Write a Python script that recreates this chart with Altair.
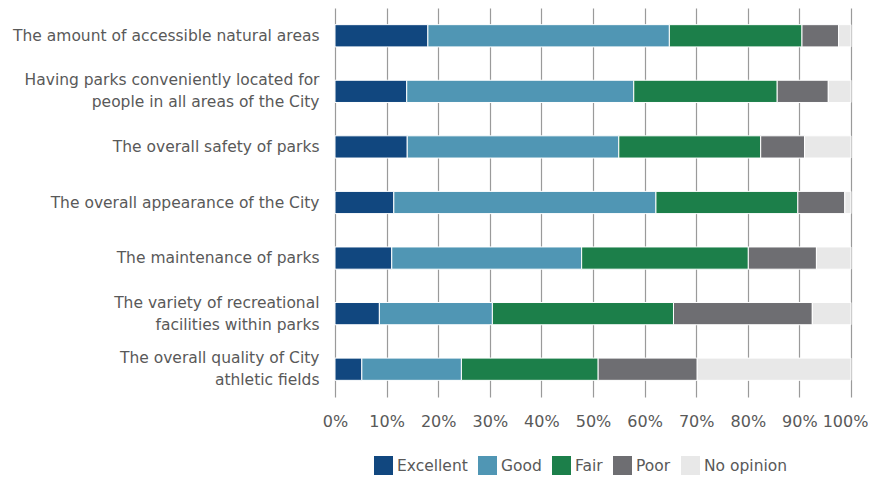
import altair as alt
import pandas as pd

categories = [
    "The amount of accessible natural areas",
    "Having parks conveniently located for|people in all areas of the City",
    "The overall safety of parks",
    "The overall appearance of the City",
    "The maintenance of parks",
    "The variety of recreational|facilities within parks",
    "The overall quality of City|athletic fields",
]
ratings = ["Excellent", "Good", "Fair", "Poor", "No opinion"]
colors = ["#11477F", "#5096B4", "#1C7F4A", "#6E6E72", "#E8E8E8"]

excellent = [18.0, 13.9, 14.0, 11.4, 11.0, 8.6, 5.2]
good = [46.8, 44.0, 41.0, 50.8, 36.8, 21.9, 19.3]
fair = [25.7, 27.8, 27.5, 27.5, 32.3, 35.1, 26.5]
poor = [7.1, 9.9, 8.5, 9.1, 13.2, 26.9, 19.2]
no_opinion = [2.4, 4.4, 9.0, 1.2, 6.7, 7.5, 29.8]

series = [excellent, good, fair, poor, no_opinion]
rows = []
for ri, (r, vals) in enumerate(zip(ratings, series)):
    for c, v in zip(categories, vals):
        rows.append({"item": c, "rating": r, "value": v, "order": ri})
df = pd.DataFrame(rows)

FONT = "DejaVu Sans"
TXT = "#595959"

chart = alt.Chart(df).mark_bar(stroke="white", strokeWidth=1).encode(
    x=alt.X("sum(value):Q",
            scale=alt.Scale(domain=[0, 100], nice=False),
            axis=alt.Axis(values=list(range(0, 101, 10)), labelExpr="datum.value + '%'",
                          title=None, domain=False, ticks=False,
                          labelOverlap=False, labelFlush=False,
                          labelOffset={"condition": {"test": "datum.value == 100", "value": -6}, "value": 0},
                          grid=True, gridColor="#9a9a9a", gridWidth=1.2,
                          labelFont=FONT, labelFontSize=16, labelColor=TXT,
                          labelPadding=16)),
    y=alt.Y("item:N", sort=categories,
            scale=alt.Scale(paddingInner=0.6, paddingOuter=0.3),
            axis=alt.Axis(title=None, domain=False, ticks=False, grid=False,
                          labelExpr="split(datum.label, '|')",
                          labelOffset={"condition": {"test": "indexof(datum.value, '|') >= 0", "value": -11}, "value": 0},
                          labelFont=FONT, labelFontSize=15.5, labelColor=TXT,
                          labelLineHeight=22, labelPadding=16,
                          minExtent=327, maxExtent=327, labelLimit=400)),
    color=alt.Color("rating:N", sort=ratings,
                    scale=alt.Scale(domain=ratings, range=colors),
                    legend=alt.Legend(title=None, orient="none", direction="horizontal",
                                      legendX=39, legendY=448,
                                      symbolType="square", symbolSize=361,
                                      symbolStrokeWidth=0, symbolOpacity=1,
                                      labelFont=FONT, labelFontSize=15.5, labelColor=TXT,
                                      labelOffset=4, columnPadding=10)),
    order=alt.Order("order:Q"),
).properties(
    width=516, height=389,
    padding={"left": 0, "top": 0, "right": 0, "bottom": 0},
).configure_view(stroke=None)

chart.save("out.html", embed_options={"renderer": "svg", "actions": False})
